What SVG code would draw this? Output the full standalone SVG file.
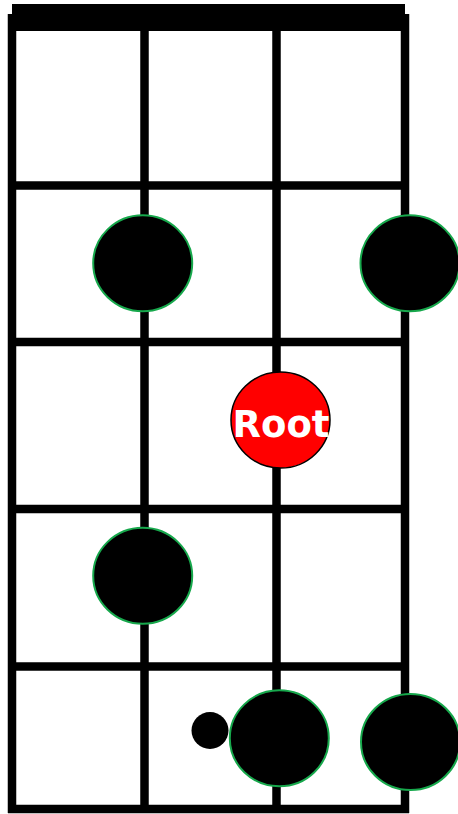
<svg xmlns="http://www.w3.org/2000/svg" width="458" height="814" viewBox="0 0 458 814">
<style>
.ln{stroke:#000;stroke-width:8.5;fill:none}
.note{fill:#000;stroke:#17a84c;stroke-width:2}
.root{fill:#ff0000;stroke:#000;stroke-width:1.5}
.lbl{font-family:"DejaVu Sans",sans-serif;font-weight:bold;font-size:37px;fill:#fff}
</style>
<rect width="458" height="814" fill="#fff"/>
<g id="connectors">
<rect x="12" y="4" width="393" height="27" fill="#000"/>
<line class="ln" x1="12" y1="14" x2="12" y2="813"/>
<line class="ln" x1="144.5" y1="14" x2="144.5" y2="813"/>
<line class="ln" x1="276.5" y1="14" x2="276.5" y2="813"/>
<line class="ln" x1="405" y1="14" x2="405" y2="813"/>
<line class="ln" x1="8" y1="185.5" x2="409" y2="185.5"/>
<line class="ln" x1="8" y1="342" x2="409" y2="342"/>
<line class="ln" x1="8" y1="509" x2="409" y2="509"/>
<line class="ln" x1="8" y1="666.5" x2="409" y2="666.5"/>
<line class="ln" x1="8" y1="809" x2="409" y2="809"/>
</g>
<g id="n1"><ellipse class="note" cx="142.7" cy="263.3" rx="49.5" ry="48"/></g>
<g id="n2"><ellipse class="note" cx="410" cy="263.3" rx="49.5" ry="48"/></g>
<g id="root"><ellipse class="root" cx="280.5" cy="420" rx="49.5" ry="48"/><text class="lbl" x="281" y="437" text-anchor="middle">Root</text></g>
<g id="n3"><ellipse class="note" cx="142.7" cy="575.8" rx="49.5" ry="48"/></g>
<g id="n4"><circle cx="210" cy="730.5" r="18.5" fill="#000"/></g>
<g id="n5"><ellipse class="note" cx="279.3" cy="738.3" rx="49.5" ry="48"/></g>
<g id="n6"><ellipse class="note" cx="410.5" cy="742" rx="49.5" ry="48"/></g>
</svg>
